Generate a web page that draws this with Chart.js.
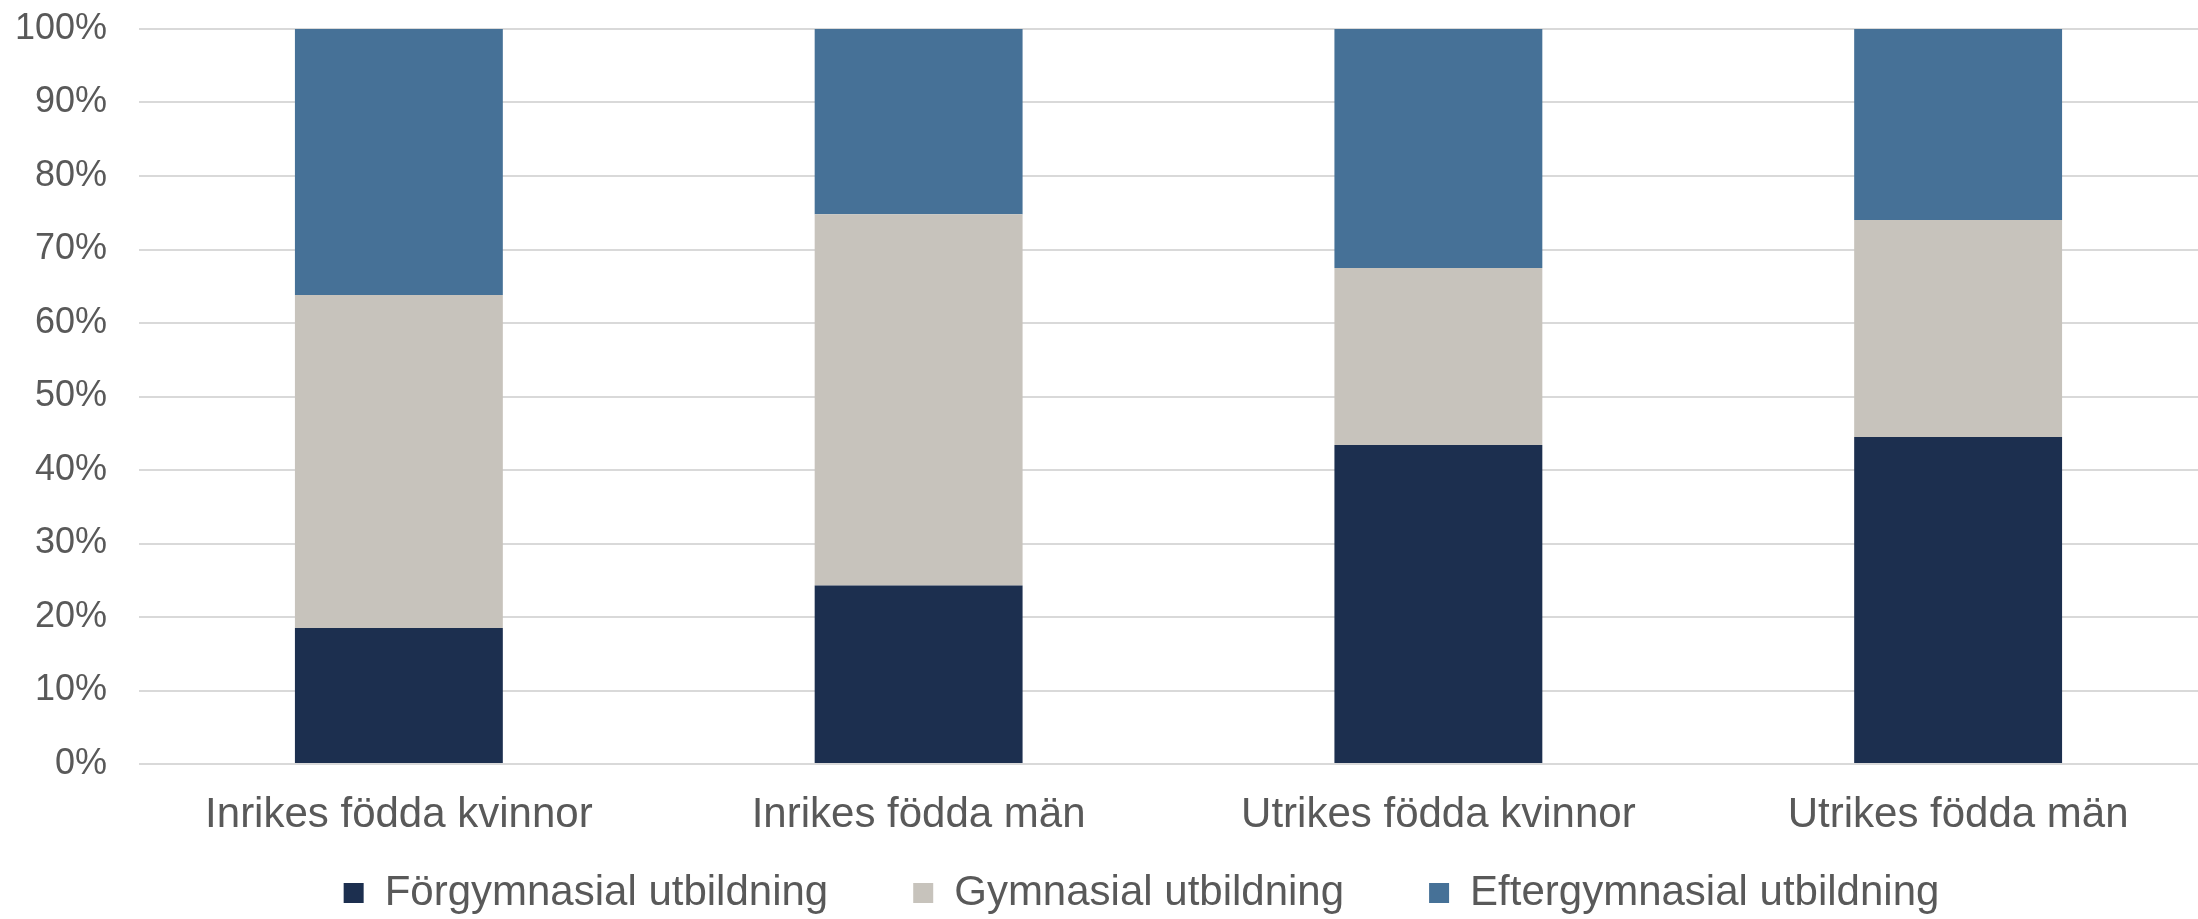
<!DOCTYPE html>
<html lang="sv">
<head>
<meta charset="utf-8">
<title>Utbildningsnivå</title>
<script src="https://cdn.jsdelivr.net/npm/chart.js@4/dist/chart.umd.min.js"></script>
<style>
    html,
    body {
        margin: 0;
        padding: 0;
        background: #ffffff;
        overflow: hidden;
    }

    .chart-wrapper {
        position: relative;
        width: 2218px;
        height: 919px;
    }
</style>
</head>
<body>
<div class="chart-wrapper">
    <canvas id="educationChart"></canvas>
</div>

<script>
'use strict';

// =========================================================
// DATA
// =========================================================

const categories = ['Inrikes födda kvinnor', 'Inrikes födda män', 'Utrikes födda kvinnor', 'Utrikes födda män'];

const seriesNames = ['Förgymnasial utbildning', 'Gymnasial utbildning', 'Eftergymnasial utbildning'];

// bottom to top in each bar, percent
const forgymnasial = [18.5, 24.3, 43.4, 44.5];
const gymnasial = [45.3, 50.5, 24.1, 29.5];
const eftergymnasial = [36.2, 25.2, 32.5, 26.0];

const yTickLabels = ['0%', '10%', '20%', '30%', '40%', '50%', '60%', '70%', '80%', '90%', '100%'];


// =========================================================
// STYLE
// =========================================================

const COLOR_FORGYMNASIAL = '#1c2f4f';
const COLOR_GYMNASIAL = '#c7c3bc';
const COLOR_EFTERGYMNASIAL = '#467197';
const COLOR_TEXT = '#595959';
const COLOR_GRID = '#d9d9d9';
const FONT_FAMILY = '"Liberation Sans", Arial, sans-serif';


// =========================================================
// LAYOUT TWEAKS
// The legend has wide gaps between items, so the x axis is
// kept thin and its labels are allowed to draw below it.
// =========================================================

const layoutTweaks = {
    id: 'layoutTweaks',
    afterLayout: (chart) => {
        const xScale = chart.scales.x;

        // let the category labels draw outside the thin axis box
        xScale.bottom = chart.height;

        // legend sits a bit right of the canvas centre
        if (chart.legend) {
            chart.legend.left += 26;
            chart.legend.right += 26;
        }
    },
};


// =========================================================
// CHART
// =========================================================

const makeDataset = (label, data, color) => {
    return {
        label: label,
        data: data,
        backgroundColor: color,
        borderWidth: 0,
        barPercentage: 0.4,
        categoryPercentage: 1.0,
    };
};

const renderChart = () => {
    const canvas = document.querySelector('#educationChart');

    if (!canvas) return;

    new Chart(canvas, {
        type: 'bar',
        data: {
            labels: categories,
            datasets: [
                makeDataset(seriesNames[0], forgymnasial, COLOR_FORGYMNASIAL),
                makeDataset(seriesNames[1], gymnasial, COLOR_GYMNASIAL),
                makeDataset(seriesNames[2], eftergymnasial, COLOR_EFTERGYMNASIAL),
            ],
        },
        plugins: [layoutTweaks],
        options: {
            responsive: true,
            maintainAspectRatio: false,
            animation: false,

            layout: {
                padding: {
                    top: 29,
                    left: 13,
                    right: 0,
                    bottom: -5,
                },
            },

            plugins: {
                tooltip: {
                    enabled: false,
                },

                legend: {
                    position: 'bottom',
                    align: 'center',
                    labels: {
                        boxWidth: 20,
                        boxHeight: 20,
                        padding: 85,
                        color: COLOR_TEXT,
                        font: {
                            family: FONT_FAMILY,
                            size: 42,
                        },
                    },
                },
            },

            scales: {
                x: {
                    stacked: true,
                    grid: {
                        display: false,
                    },
                    border: {
                        display: false,
                    },
                    ticks: {
                        color: COLOR_TEXT,
                        padding: 18,
                        maxRotation: 0,
                        autoSkip: false,
                        font: {
                            family: FONT_FAMILY,
                            size: 42,
                        },
                    },
                    afterFit: (scale) => {
                        scale.height = 23;
                    },
                },

                y: {
                    stacked: true,
                    min: 0,
                    max: 100,
                    border: {
                        display: false,
                    },
                    grid: {
                        color: COLOR_GRID,
                        lineWidth: 2,
                        drawTicks: false,
                    },
                    ticks: {
                        stepSize: 10,
                        padding: 32,
                        color: COLOR_TEXT,
                        font: {
                            family: FONT_FAMILY,
                            size: 36,
                        },
                        callback: (value, index) => yTickLabels[index],
                    },
                    afterFit: (scale) => {
                        scale.width = 126;
                        scale.paddingTop = 22;
                        scale.paddingBottom = 22;
                    },
                },
            },
        },
    });
};


// =========================================================
// INIT
// =========================================================

const init = () => {
    renderChart();
};

document.addEventListener('DOMContentLoaded', init);
</script>
</body>
</html>
